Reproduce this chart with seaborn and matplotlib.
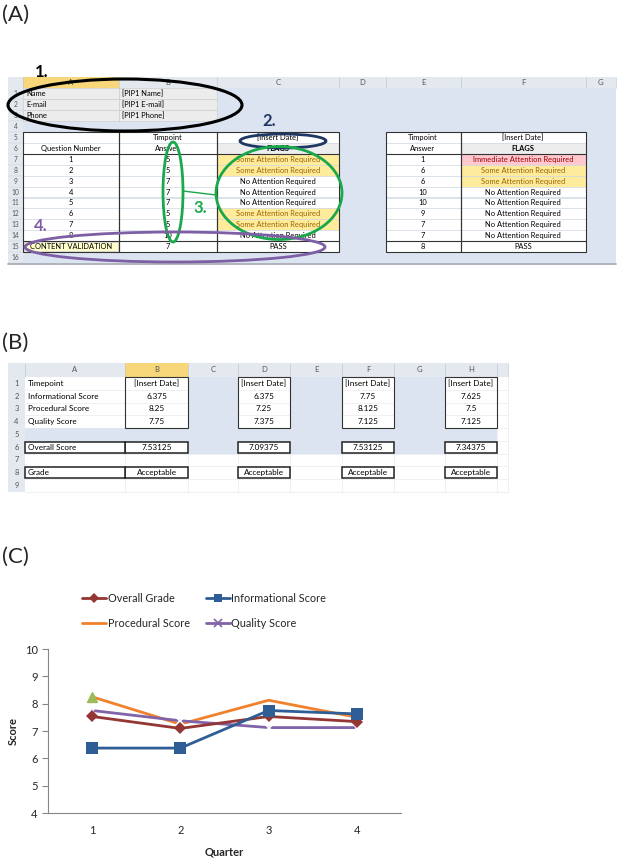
import numpy as np
import pandas as pd
import matplotlib
matplotlib.use("Agg")
import matplotlib.pyplot as plt
from matplotlib.patches import Rectangle, Ellipse
from matplotlib.lines import Line2D
import seaborn as sns

sns.set_style("white")
plt.rcParams["font.family"] = ["Lato", "DejaVu Sans"]

# -------------------------------
# DATA
# -------------------------------
# Panel A - left table
questions = [1, 2, 3, 4, 5, 6, 7, 8]
answers_1 = [5, 5, 7, 7, 7, 5, 5, 10]
flags_1 = ["Some", "Some", "No", "No", "No", "Some", "Some", "No"]
validation_1 = [7, "PASS"]
# Panel A - right table
answers_2 = [1, 6, 6, 10, 10, 9, 7, 7]
flags_2 = ["Immediate", "Some", "Some", "No", "No", "No", "No", "No"]
validation_2 = [8, "PASS"]
contact_labels = ["Name", "E-mail", "Phone"]
contact_values = ["[PIP1 Name]", "[PIP1 E-mail]", "[PIP1 Phone]"]

# Panel B
score_labels = ["Timepoint", "Informational Score", "Procedural Score", "Quality Score"]
informational = [6.375, 6.375, 7.75, 7.625]
procedural = [8.25, 7.25, 8.125, 7.5]
quality = [7.75, 7.375, 7.125, 7.125]
overall = [7.53125, 7.09375, 7.53125, 7.34375]
grades = ["Acceptable", "Acceptable", "Acceptable", "Acceptable"]

# Panel C
quarters = [1, 2, 3, 4]
series_names = ["Overall Grade", "Informational Score", "Procedural Score", "Quality Score"]

flag_text = {"Some": "Some Attention Required", "No": "No Attention Required",
             "Immediate": "Immediate Attention Required"}
flag_fill = {"Some": "#FFEB9C", "No": "white", "Immediate": "#FFC7CE"}
flag_color = {"Some": "#9C6500", "No": "black", "Immediate": "#9C0006"}

BLUE = "#DCE3F1"
HEAD = "#E4E9F0"
SEL = "#F7D77A"
GRID = "#D0D7E2"
FS = 5.4

fig = plt.figure(figsize=(6.2, 8.61), dpi=100)
ov = fig.add_axes([0, 0, 1, 1])
ov.set_xlim(0, 620); ov.set_ylim(861, 0); ov.axis("off")


def cell(x0, x1, y0, y1, fill=None, edge=None, lw=0.4, z=1):
    ov.add_patch(Rectangle((x0, y0), x1 - x0, y1 - y0, facecolor=fill if fill else "none",
                           edgecolor=edge if edge else "none", lw=lw, zorder=z))


def txt(x, y, s, ha="center", color="black", size=FS, weight="normal", z=5):
    ov.text(x, y, s, ha=ha, va="center", color=color, fontsize=size, fontweight=weight, zorder=z)


# -------------------------------
# (A)
# -------------------------------
ov.text(2, 15, "(A)", fontsize=16, va="center", ha="left")
colsA = [8, 23, 119, 217, 339, 386, 461, 586, 616]
lettersA = ["", "A", "B", "C", "D", "E", "F", "G"]
hy0, hy1 = 77, 88
rh = 10.95
cell(8, 616, hy0, hy1, fill=HEAD, z=1)
for i, L in enumerate(lettersA):
    if L == "A":
        cell(colsA[i], colsA[i + 1], hy0, hy1, fill=SEL, z=2)
    ov.plot([colsA[i + 1]] * 2, [hy0, hy1], color="#B8C0CC", lw=0.4, zorder=3)
    txt((colsA[i] + colsA[i + 1]) / 2, (hy0 + hy1) / 2, L, color="#555555", size=5.6)
cell(23, 616, hy1, hy1 + 16 * rh, fill=BLUE, z=1)
cell(8, 23, hy1, hy1 + 16 * rh, fill=HEAD, z=1)
ov.plot([8, 616], [hy1 + 16 * rh + 1] * 2, color="#A0A6B0", lw=1.2, zorder=3)
for r in range(16):
    y0 = hy1 + r * rh
    txt(15.5, y0 + rh / 2, str(r + 1), color="#555555", size=4.8)
    ov.plot([8, 23], [y0 + rh] * 2, color="#C8CED8", lw=0.3, zorder=2)

def rowy(r):
    return hy1 + (r - 1) * rh

# contact rows
for k in range(3):
    y0 = rowy(k + 1)
    cell(23, 119, y0, y0 + rh, fill="#ECECEC", edge="#C9C9C9", z=2)
    cell(119, 217, y0, y0 + rh, fill="#ECECEC", edge="#C9C9C9", z=2)
    txt(26, y0 + rh / 2, contact_labels[k], ha="left")
    txt(122, y0 + rh / 2, contact_values[k], ha="left")

# left table rows 5-15
for r in range(5, 16):
    y0 = rowy(r)
    for c in range(1, 4):
        cell(colsA[c], colsA[c + 1], y0, y0 + rh, fill="white", edge=GRID, z=2)
cell(colsA[3], colsA[4], rowy(6), rowy(6) + rh, fill="#EDEDED", edge=GRID, z=2)
txt(168, rowy(5) + rh / 2, "Timpoint")
txt(278, rowy(5) + rh / 2, "[Insert Date]")
txt(71, rowy(6) + rh / 2, "Question Number")
txt(168, rowy(6) + rh / 2, "Answer")
txt(278, rowy(6) + rh / 2, "FLAGS", weight="bold")
for i, (q, a, f) in enumerate(zip(questions, answers_1, flags_1)):
    y0 = rowy(7 + i)
    cell(colsA[3], colsA[4], y0, y0 + rh, fill=flag_fill[f], edge=GRID, z=2)
    txt(71, y0 + rh / 2, str(q))
    txt(168, y0 + rh / 2, str(a))
    txt(278, y0 + rh / 2, flag_text[f], color=flag_color[f])
y15 = rowy(15)
cell(24, 118, y15 + 0.8, y15 + rh - 0.8, fill="#FFFFCC", edge="#C9C9C9", z=3)
txt(71, y15 + rh / 2, "CONTENT VALIDATION")
txt(168, y15 + rh / 2, str(validation_1[0]))
txt(278, y15 + rh / 2, validation_1[1])
for c in range(1, 4):
    cell(colsA[c], colsA[c + 1], rowy(5), rowy(16), edge="#333333", lw=0.8, z=4)
ov.plot([23, 339], [rowy(7)] * 2, color="#333333", lw=0.8, zorder=4)
ov.plot([23, 339], [rowy(15)] * 2, color="#333333", lw=0.8, zorder=4)

# right table
for r in range(5, 16):
    y0 = rowy(r)
    for c in (5, 6):
        cell(colsA[c], colsA[c + 1], y0, y0 + rh, fill="white", edge=GRID, z=2)
cell(colsA[6], colsA[7], rowy(6), rowy(6) + rh, fill="#EDEDED", edge=GRID, z=2)
txt(423, rowy(5) + rh / 2, "Timpoint")
txt(523, rowy(5) + rh / 2, "[Insert Date]")
txt(423, rowy(6) + rh / 2, "Answer")
txt(523, rowy(6) + rh / 2, "FLAGS", weight="bold")
for i, (a, f) in enumerate(zip(answers_2, flags_2)):
    y0 = rowy(7 + i)
    cell(colsA[6], colsA[7], y0, y0 + rh, fill=flag_fill[f], edge=GRID, z=2)
    txt(423, y0 + rh / 2, str(a))
    txt(523, y0 + rh / 2, flag_text[f], color=flag_color[f])
txt(423, y15 + rh / 2, str(validation_2[0]))
txt(523, y15 + rh / 2, validation_2[1])
for c in (5, 6):
    cell(colsA[c], colsA[c + 1], rowy(5), rowy(16), edge="#333333", lw=0.8, z=4)
ov.plot([386, 586], [rowy(7)] * 2, color="#333333", lw=0.8, zorder=4)
ov.plot([386, 586], [rowy(15)] * 2, color="#333333", lw=0.8, zorder=4)

# annotations
GREEN = "#19A84B"
PURPLE = "#7E5FA6"
NAVY = "#1F3763"
ov.add_patch(Ellipse((125, 105), 234, 52, fill=False, edgecolor="black", lw=2.2, zorder=6))
ov.text(35, 72, "1.", fontsize=12, fontweight="bold", color="black", va="center", zorder=7)
ov.add_patch(Ellipse((283, 141), 86, 14, fill=False, edgecolor=NAVY, lw=2.0, zorder=6))
ov.text(262, 121, "2.", fontsize=12, fontweight="bold", color=NAVY, va="center", zorder=7)
ov.add_patch(Ellipse((173, 192), 20, 100, fill=False, edgecolor=GREEN, lw=2.0, zorder=6))
ov.add_patch(Ellipse((279, 193), 126, 93, fill=False, edgecolor=GREEN, lw=2.0, zorder=6))
ov.plot([183, 216], [191, 195], color=GREEN, lw=1.0, zorder=6)
ov.text(193, 208, "3.", fontsize=12, fontweight="bold", color=GREEN, va="center", zorder=7)
ov.add_patch(Ellipse((175, 247), 300, 30, fill=False, edgecolor=PURPLE, lw=2.0, zorder=6))
ov.text(34, 226, "4.", fontsize=12, fontweight="bold", color=PURPLE, va="center", zorder=7)

# -------------------------------
# (B)
# -------------------------------
ov.text(2, 343, "(B)", fontsize=16, va="center", ha="left")
colsB = [8, 25, 125, 188, 238, 290, 342, 394, 445, 497, 508]
lettersB = ["", "A", "B", "C", "D", "E", "F", "G", "H", ""]
bh0, bh1 = 363, 377
brh = 12.75
cell(8, 508, bh0, bh1, fill=HEAD, z=1)
for i, L in enumerate(lettersB):
    if L == "B":
        cell(colsB[i], colsB[i + 1], bh0, bh1, fill=SEL, z=2)
    ov.plot([colsB[i + 1]] * 2, [bh0, bh1], color="#B8C0CC", lw=0.4, zorder=3)
    txt((colsB[i] + colsB[i + 1]) / 2, (bh0 + bh1) / 2, L, color="#555555", size=5.5)
cell(8, 25, bh1, bh1 + 9 * brh, fill=HEAD, z=1)
for r in range(9):
    y0 = bh1 + r * brh
    txt(16.5, y0 + brh / 2, str(r + 1), color="#555555", size=5.5)
    for c in range(1, 10):
        blue = r <= 5 and c <= 8 and (r in (4, 5) or c in (3, 5, 7))
        cell(colsB[c], colsB[c + 1], y0, y0 + brh, fill=BLUE if blue else "white",
             edge=None, z=1)
        ov.plot([colsB[c], colsB[c + 1]], [y0 + brh] * 2, color="#E2E5EA", lw=0.4, zorder=1.5)
        ov.plot([colsB[c + 1]] * 2, [y0, y0 + brh], color="#E2E5EA", lw=0.4, zorder=1.5)

def browy(r):
    return bh1 + (r - 1) * brh + brh / 2

FSB = 5.9
for k, lab in enumerate(score_labels):
    txt(28, browy(k + 1), lab, ha="left", size=FSB)
txt(28, browy(6), "Overall Score", ha="left", size=FSB)
txt(28, browy(8), "Grade", ha="left", size=FSB)
val_cols = [2, 4, 6, 8]
for j, c in enumerate(val_cols):
    xc = (colsB[c] + colsB[c + 1]) / 2
    vals = ["[Insert Date]", f"{informational[j]:g}", f"{procedural[j]:g}", f"{quality[j]:g}"]
    for k, v in enumerate(vals):
        txt(xc, browy(k + 1), v, size=FSB)
    cell(colsB[c], colsB[c + 1], bh1, bh1 + 4 * brh, edge="#333333", lw=0.8, z=4)
    cell(colsB[c], colsB[c + 1], bh1 + 5 * brh + 0.8, bh1 + 6 * brh - 0.8, fill="white",
         edge="#222222", lw=1.1, z=3)
    txt(xc, browy(6), f"{overall[j]:g}", size=FSB)
    cell(colsB[c], colsB[c + 1], bh1 + 7 * brh + 0.8, bh1 + 8 * brh - 0.8, fill="white",
         edge="#222222", lw=1.1, z=3)
    txt(xc, browy(8), grades[j], size=FSB)
cell(colsB[1], colsB[2], bh1 + 5 * brh + 0.8, bh1 + 6 * brh - 0.8, fill="white",
     edge="#222222", lw=1.1, z=3)
cell(colsB[1], colsB[2], bh1 + 7 * brh + 0.8, bh1 + 8 * brh - 0.8, fill="white",
     edge="#222222", lw=1.1, z=3)

# -------------------------------
# (C)
# -------------------------------
ov.text(2, 557, "(C)", fontsize=16, va="center", ha="left")

df = pd.DataFrame({
    "Quarter": quarters * 4,
    "Score": overall + informational + procedural + quality,
    "Series": sum([[n] * 4 for n in series_names], []),
})
palette = {"Overall Grade": "#943634", "Informational Score": "#2E5E95",
           "Procedural Score": "#F0822E", "Quality Score": "#8063A8"}
markers = {"Overall Grade": "D", "Informational Score": "s",
           "Procedural Score": "", "Quality Score": "x"}
msize = {"Overall Grade": 6, "Informational Score": 8, "Procedural Score": 0, "Quality Score": 8}

ax = fig.add_axes([48 / 620, 1 - 813 / 861, 353 / 620, 164 / 861])
for name in ["Procedural Score", "Quality Score", "Overall Grade", "Informational Score"]:
    sub = df[df["Series"] == name]
    sns.lineplot(data=sub, x="Quarter", y="Score", color=palette[name], lw=2.0,
                 marker=markers[name] if markers[name] else None,
                 markersize=msize[name], markeredgewidth=1.3 if name == "Quality Score" else 0,
                 ax=ax, legend=False)
# Excel leftover marker on the first procedural point
ax.plot(quarters[0], procedural[0], marker="^", color="#9BBB59", markersize=7, zorder=5)

ax.set_xlim(0.5, 4.5)
ax.set_ylim(4, 10)
ax.set_xticks([0.5, 1.5, 2.5, 3.5, 4.5], minor=False)
ax.set_xticklabels([])
ax.set_xticks(quarters, minor=True)
ax.set_xticklabels([str(q) for q in quarters], minor=True)
ax.tick_params(axis="x", which="major", length=4, color="#868686", width=0.8, direction="out")
ax.tick_params(axis="x", which="minor", length=0, labelsize=8, pad=9)
ax.set_yticks(range(4, 11))
ax.tick_params(axis="y", length=4, color="#868686", width=0.8, direction="out", labelsize=8, left=True)
for s in ["top", "right"]:
    ax.spines[s].set_visible(False)
for s in ["left", "bottom"]:
    ax.spines[s].set_color("#868686")
    ax.spines[s].set_linewidth(0.8)
ax.set_xlabel("Quarter", fontsize=8, fontweight="bold", labelpad=7)
ax.set_ylabel("Score", fontsize=8, fontweight="bold", labelpad=4)

handles = [Line2D([], [], color=palette[n], lw=2, marker=markers[n] if markers[n] else None,
                  markersize=msize[n] * 0.8, markeredgewidth=1.2 if n == "Quality Score" else 0)
           for n in series_names]
order = [0, 2, 1, 3]
fig.legend([handles[i] for i in order], [series_names[i] for i in order],
           loc="upper left", bbox_to_anchor=(80 / 620, 1 - 591 / 861), ncol=2,
           frameon=False, fontsize=7.8, handlelength=2.2, handletextpad=0.15,
           columnspacing=1.5, labelspacing=1.25, borderaxespad=0, borderpad=0.2)

plt.savefig("out.png", dpi=100)
